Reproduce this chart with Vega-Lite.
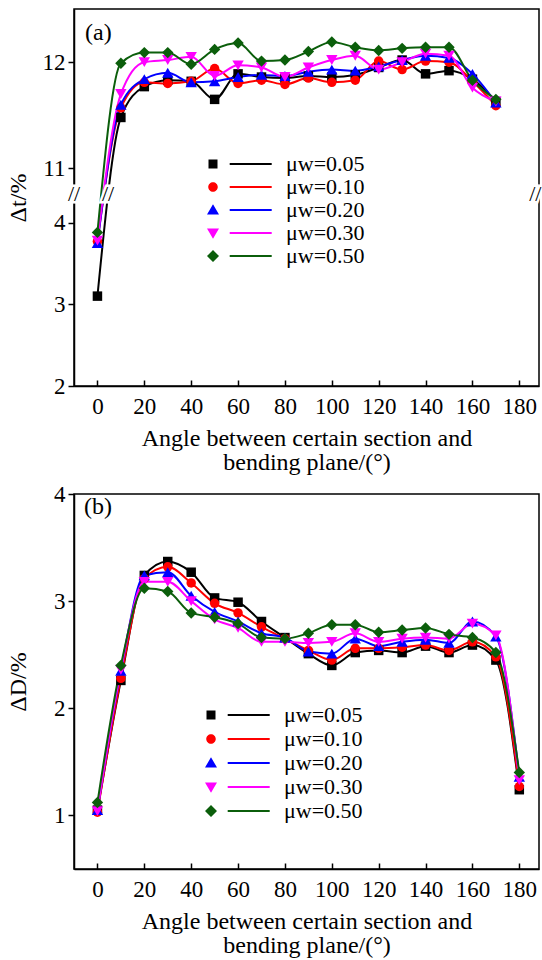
{
  "$schema": "https://vega.github.io/schema/vega-lite/v6.json",
  "background": "white",
  "padding": {"left": 5, "top": 8, "right": 3, "bottom": 0},
  "spacing": 7,
  "config": {
    "font": "'Liberation Serif', 'Times New Roman', serif",
    "view": {"stroke": "black", "strokeWidth": 1.5},
    "axis": {"domainColor": "black", "domainWidth": 1.5, "tickColor": "black", "tickWidth": 1.5, "labelColor": "black", "titleColor": "black", "labelFontSize": 23, "titleFontSize": 24, "titleFontWeight": "normal", "grid": false, "labelFont": "'Liberation Serif', 'Times New Roman', serif", "titleFont": "'Liberation Serif', 'Times New Roman', serif"},
    "legend": {"labelFont": "'Liberation Serif', 'Times New Roman', serif", "labelFontSize": 22, "labelColor": "black", "padding": 0},
    "title": {"font": "'Liberation Serif', 'Times New Roman', serif"},
    "text": {"font": "'Liberation Serif', 'Times New Roman', serif"}
  },
  "resolve": {"scale": {"fill": "independent", "shape": "independent", "stroke": "independent"}, "legend": {"fill": "independent", "shape": "independent", "stroke": "independent"}},
  "vconcat": [
    {
      "width": 465,
      "height": 377,
      "title": {"text": "(a)", "anchor": "start", "frame": "group", "offset": -36, "dx": 11, "fontSize": 24, "fontWeight": "normal", "color": "black"},
      "data": {"values": [
        {"mu": "0.05", "angle": 0, "v": 3.1}, {"mu": "0.05", "angle": 10, "v": 11.48}, {"mu": "0.05", "angle": 20, "v": 11.77}, {"mu": "0.05", "angle": 30, "v": 11.83}, {"mu": "0.05", "angle": 40, "v": 11.82}, {"mu": "0.05", "angle": 50, "v": 11.65}, {"mu": "0.05", "angle": 60, "v": 11.89}, {"mu": "0.05", "angle": 70, "v": 11.86}, {"mu": "0.05", "angle": 80, "v": 11.85}, {"mu": "0.05", "angle": 90, "v": 11.87}, {"mu": "0.05", "angle": 100, "v": 11.86}, {"mu": "0.05", "angle": 110, "v": 11.88}, {"mu": "0.05", "angle": 120, "v": 11.95}, {"mu": "0.05", "angle": 130, "v": 12.02}, {"mu": "0.05", "angle": 140, "v": 11.89}, {"mu": "0.05", "angle": 150, "v": 11.92}, {"mu": "0.05", "angle": 160, "v": 11.84}, {"mu": "0.05", "angle": 170, "v": 11.63},
        {"mu": "0.10", "angle": 0, "v": 3.77}, {"mu": "0.10", "angle": 10, "v": 11.57}, {"mu": "0.10", "angle": 20, "v": 11.81}, {"mu": "0.10", "angle": 30, "v": 11.8}, {"mu": "0.10", "angle": 40, "v": 11.82}, {"mu": "0.10", "angle": 50, "v": 11.94}, {"mu": "0.10", "angle": 60, "v": 11.8}, {"mu": "0.10", "angle": 70, "v": 11.83}, {"mu": "0.10", "angle": 80, "v": 11.79}, {"mu": "0.10", "angle": 90, "v": 11.85}, {"mu": "0.10", "angle": 100, "v": 11.81}, {"mu": "0.10", "angle": 110, "v": 11.83}, {"mu": "0.10", "angle": 120, "v": 12.01}, {"mu": "0.10", "angle": 130, "v": 11.93}, {"mu": "0.10", "angle": 140, "v": 12.01}, {"mu": "0.10", "angle": 150, "v": 12.0}, {"mu": "0.10", "angle": 160, "v": 11.82}, {"mu": "0.10", "angle": 170, "v": 11.59},
        {"mu": "0.20", "angle": 0, "v": 3.75}, {"mu": "0.20", "angle": 10, "v": 11.6}, {"mu": "0.20", "angle": 20, "v": 11.84}, {"mu": "0.20", "angle": 30, "v": 11.9}, {"mu": "0.20", "angle": 40, "v": 11.81}, {"mu": "0.20", "angle": 50, "v": 11.82}, {"mu": "0.20", "angle": 60, "v": 11.86}, {"mu": "0.20", "angle": 70, "v": 11.88}, {"mu": "0.20", "angle": 80, "v": 11.87}, {"mu": "0.20", "angle": 90, "v": 11.91}, {"mu": "0.20", "angle": 100, "v": 11.93}, {"mu": "0.20", "angle": 110, "v": 11.92}, {"mu": "0.20", "angle": 120, "v": 11.96}, {"mu": "0.20", "angle": 130, "v": 12.02}, {"mu": "0.20", "angle": 140, "v": 12.06}, {"mu": "0.20", "angle": 150, "v": 12.04}, {"mu": "0.20", "angle": 160, "v": 11.89}, {"mu": "0.20", "angle": 170, "v": 11.62},
        {"mu": "0.30", "angle": 0, "v": 3.78}, {"mu": "0.30", "angle": 10, "v": 11.7}, {"mu": "0.30", "angle": 20, "v": 12.0}, {"mu": "0.30", "angle": 30, "v": 12.02}, {"mu": "0.30", "angle": 40, "v": 12.05}, {"mu": "0.30", "angle": 50, "v": 11.87}, {"mu": "0.30", "angle": 60, "v": 11.97}, {"mu": "0.30", "angle": 70, "v": 11.95}, {"mu": "0.30", "angle": 80, "v": 11.86}, {"mu": "0.30", "angle": 90, "v": 11.95}, {"mu": "0.30", "angle": 100, "v": 12.02}, {"mu": "0.30", "angle": 110, "v": 12.06}, {"mu": "0.30", "angle": 120, "v": 11.93}, {"mu": "0.30", "angle": 130, "v": 12.0}, {"mu": "0.30", "angle": 140, "v": 12.08}, {"mu": "0.30", "angle": 150, "v": 12.06}, {"mu": "0.30", "angle": 160, "v": 11.76}, {"mu": "0.30", "angle": 170, "v": 11.63},
        {"mu": "0.50", "angle": 0, "v": 3.88}, {"mu": "0.50", "angle": 10, "v": 11.99}, {"mu": "0.50", "angle": 20, "v": 12.09}, {"mu": "0.50", "angle": 30, "v": 12.09}, {"mu": "0.50", "angle": 40, "v": 11.98}, {"mu": "0.50", "angle": 50, "v": 12.12}, {"mu": "0.50", "angle": 60, "v": 12.18}, {"mu": "0.50", "angle": 70, "v": 12.01}, {"mu": "0.50", "angle": 80, "v": 12.02}, {"mu": "0.50", "angle": 90, "v": 12.1}, {"mu": "0.50", "angle": 100, "v": 12.19}, {"mu": "0.50", "angle": 110, "v": 12.14}, {"mu": "0.50", "angle": 120, "v": 12.11}, {"mu": "0.50", "angle": 130, "v": 12.13}, {"mu": "0.50", "angle": 140, "v": 12.14}, {"mu": "0.50", "angle": 150, "v": 12.14}, {"mu": "0.50", "angle": 160, "v": 11.83}, {"mu": "0.50", "angle": 170, "v": 11.65}
      ]},
      "encoding": {
        "x": {"field": "angle", "type": "quantitative", "scale": {"domain": [-10, 188.4], "nice": false, "zero": false},
              "axis": {"values": [0, 20, 40, 60, 80, 100, 120, 140, 160, 180], "tickSize": -6, "labelPadding": 15, "title": ["Angle between certain section and", "bending plane/(°)"], "titleLineHeight": 24, "titlePadding": 8}},
        "y": {"field": "v", "type": "quantitative", "scale": {"domain": [2, 4.35, 10.76, 12.5], "range": [377, 185, 185, 0], "nice": false, "zero": false},
              "axis": {"values": [2, 3, 4, 11, 12], "format": "d", "tickSize": 6, "labelPadding": 3, "title": "Δt/%", "titleX": -44}}
      },
      "layer": [
        {"mark": {"type": "line", "interpolate": "monotone", "strokeWidth": 2},
         "encoding": {"stroke": {"field": "mu", "type": "nominal", "legend": null, "scale": {"range": ["#000000", "#ff0000", "#0000ff", "#ff00ff", "#0b5e0b"]}}}},
        {"mark": {"type": "point", "filled": true, "size": 100, "opacity": 0},
         "encoding": {
           "fill": {"field": "mu", "type": "nominal", "scale": {"range": ["#000000", "#ff0000", "#0000ff", "#ff00ff", "#0b5e0b"]},
                    "legend": {"orient": "none", "legendX": 128, "legendY": 144, "title": null, "labelExpr": "'μw=' + datum.label", "symbolSize": 100, "symbolOpacity": 1, "symbolStrokeWidth": 0, "labelOffset": 62, "rowPadding": 1}},
           "shape": {"field": "mu", "type": "nominal",
                     "scale": {"range": ["M-0.9,-0.9h1.8v1.8h-1.8z M3.34,-0.2h8.4v0.4h-8.4z", "M-0.95,0a0.95,0.95 0 1,0 1.9,0a0.95,0.95 0 1,0 -1.9,0z M3.34,-0.2h8.4v0.4h-8.4z", "M0,-1.15L1.2,0.9L-1.2,0.9z M3.34,-0.2h8.4v0.4h-8.4z", "M0,1.15L1.2,-0.9L-1.2,-0.9z M3.34,-0.2h8.4v0.4h-8.4z", "M0,-1.2L1.2,0L0,1.2L-1.2,0z M3.34,-0.2h8.4v0.4h-8.4z"]},
                     "legend": {"orient": "none", "legendX": 128, "legendY": 144, "title": null, "labelExpr": "'μw=' + datum.label", "symbolSize": 100, "symbolOpacity": 1, "symbolStrokeWidth": 0, "labelOffset": 62, "rowPadding": 1}}
         }},
        {"transform": [{"filter": {"field": "mu", "equal": "0.05"}}], "mark": {"type": "point", "shape": "square", "filled": true, "size": 90, "color": "#000000", "opacity": 1}},
        {"transform": [{"filter": {"field": "mu", "equal": "0.10"}}], "mark": {"type": "point", "shape": "circle", "filled": true, "size": 90, "color": "#ff0000", "opacity": 1}},
        {"transform": [{"filter": {"field": "mu", "equal": "0.20"}}], "mark": {"type": "point", "shape": "triangle-up", "filled": true, "size": 130, "color": "#0000ff", "opacity": 1}},
        {"transform": [{"filter": {"field": "mu", "equal": "0.30"}}], "mark": {"type": "point", "shape": "triangle-down", "filled": true, "size": 130, "color": "#ff00ff", "opacity": 1}},
        {"transform": [{"filter": {"field": "mu", "equal": "0.50"}}], "mark": {"type": "point", "shape": "diamond", "filled": true, "size": 130, "color": "#0b5e0b", "opacity": 1}},
        {"data": {"values": [{"bx": -10, "by": 7}, {"bx": 4.5, "by": 7}, {"bx": 186.8, "by": 7}]},
         "mark": {"type": "text", "text": "//", "fontSize": 22, "color": "white", "stroke": "white", "strokeWidth": 5},
         "encoding": {"x": {"field": "bx", "type": "quantitative"}, "y": {"field": "by", "type": "quantitative"}}},
        {"data": {"values": [{"bx": -10, "by": 7}, {"bx": 4.5, "by": 7}, {"bx": 186.8, "by": 7}]},
         "mark": {"type": "text", "text": "//", "fontSize": 22, "color": "black"},
         "encoding": {"x": {"field": "bx", "type": "quantitative"}, "y": {"field": "by", "type": "quantitative"}}}
      ]
    },
    {
      "width": 465,
      "height": 375,
      "title": {"text": "(b)", "anchor": "start", "frame": "group", "offset": -36, "dx": 10, "fontSize": 24, "fontWeight": "normal", "color": "black"},
      "data": {"values": [
        {"mu": "0.05", "angle": 0, "v": 1.05}, {"mu": "0.05", "angle": 10, "v": 2.26}, {"mu": "0.05", "angle": 20, "v": 3.24}, {"mu": "0.05", "angle": 30, "v": 3.37}, {"mu": "0.05", "angle": 40, "v": 3.27}, {"mu": "0.05", "angle": 50, "v": 3.03}, {"mu": "0.05", "angle": 60, "v": 2.99}, {"mu": "0.05", "angle": 70, "v": 2.81}, {"mu": "0.05", "angle": 80, "v": 2.66}, {"mu": "0.05", "angle": 90, "v": 2.51}, {"mu": "0.05", "angle": 100, "v": 2.4}, {"mu": "0.05", "angle": 110, "v": 2.52}, {"mu": "0.05", "angle": 120, "v": 2.54}, {"mu": "0.05", "angle": 130, "v": 2.52}, {"mu": "0.05", "angle": 140, "v": 2.58}, {"mu": "0.05", "angle": 150, "v": 2.52}, {"mu": "0.05", "angle": 160, "v": 2.59}, {"mu": "0.05", "angle": 170, "v": 2.45}, {"mu": "0.05", "angle": 180, "v": 1.24},
        {"mu": "0.10", "angle": 0, "v": 1.03}, {"mu": "0.10", "angle": 10, "v": 2.28}, {"mu": "0.10", "angle": 20, "v": 3.21}, {"mu": "0.10", "angle": 30, "v": 3.32}, {"mu": "0.10", "angle": 40, "v": 3.17}, {"mu": "0.10", "angle": 50, "v": 2.98}, {"mu": "0.10", "angle": 60, "v": 2.89}, {"mu": "0.10", "angle": 70, "v": 2.76}, {"mu": "0.10", "angle": 80, "v": 2.65}, {"mu": "0.10", "angle": 90, "v": 2.54}, {"mu": "0.10", "angle": 100, "v": 2.45}, {"mu": "0.10", "angle": 110, "v": 2.56}, {"mu": "0.10", "angle": 120, "v": 2.56}, {"mu": "0.10", "angle": 130, "v": 2.57}, {"mu": "0.10", "angle": 140, "v": 2.59}, {"mu": "0.10", "angle": 150, "v": 2.54}, {"mu": "0.10", "angle": 160, "v": 2.62}, {"mu": "0.10", "angle": 170, "v": 2.48}, {"mu": "0.10", "angle": 180, "v": 1.27},
        {"mu": "0.20", "angle": 0, "v": 1.05}, {"mu": "0.20", "angle": 10, "v": 2.35}, {"mu": "0.20", "angle": 20, "v": 3.24}, {"mu": "0.20", "angle": 30, "v": 3.27}, {"mu": "0.20", "angle": 40, "v": 3.05}, {"mu": "0.20", "angle": 50, "v": 2.9}, {"mu": "0.20", "angle": 60, "v": 2.81}, {"mu": "0.20", "angle": 70, "v": 2.7}, {"mu": "0.20", "angle": 80, "v": 2.66}, {"mu": "0.20", "angle": 90, "v": 2.53}, {"mu": "0.20", "angle": 100, "v": 2.51}, {"mu": "0.20", "angle": 110, "v": 2.65}, {"mu": "0.20", "angle": 120, "v": 2.58}, {"mu": "0.20", "angle": 130, "v": 2.62}, {"mu": "0.20", "angle": 140, "v": 2.64}, {"mu": "0.20", "angle": 150, "v": 2.61}, {"mu": "0.20", "angle": 160, "v": 2.81}, {"mu": "0.20", "angle": 170, "v": 2.67}, {"mu": "0.20", "angle": 180, "v": 1.36},
        {"mu": "0.30", "angle": 0, "v": 1.04}, {"mu": "0.30", "angle": 10, "v": 2.36}, {"mu": "0.30", "angle": 20, "v": 3.18}, {"mu": "0.30", "angle": 30, "v": 3.18}, {"mu": "0.30", "angle": 40, "v": 3.0}, {"mu": "0.30", "angle": 50, "v": 2.83}, {"mu": "0.30", "angle": 60, "v": 2.75}, {"mu": "0.30", "angle": 70, "v": 2.62}, {"mu": "0.30", "angle": 80, "v": 2.62}, {"mu": "0.30", "angle": 90, "v": 2.61}, {"mu": "0.30", "angle": 100, "v": 2.62}, {"mu": "0.30", "angle": 110, "v": 2.7}, {"mu": "0.30", "angle": 120, "v": 2.62}, {"mu": "0.30", "angle": 130, "v": 2.65}, {"mu": "0.30", "angle": 140, "v": 2.66}, {"mu": "0.30", "angle": 150, "v": 2.65}, {"mu": "0.30", "angle": 160, "v": 2.79}, {"mu": "0.30", "angle": 170, "v": 2.68}, {"mu": "0.30", "angle": 180, "v": 1.33},
        {"mu": "0.50", "angle": 0, "v": 1.12}, {"mu": "0.50", "angle": 10, "v": 2.4}, {"mu": "0.50", "angle": 20, "v": 3.12}, {"mu": "0.50", "angle": 30, "v": 3.09}, {"mu": "0.50", "angle": 40, "v": 2.89}, {"mu": "0.50", "angle": 50, "v": 2.85}, {"mu": "0.50", "angle": 60, "v": 2.79}, {"mu": "0.50", "angle": 70, "v": 2.66}, {"mu": "0.50", "angle": 80, "v": 2.65}, {"mu": "0.50", "angle": 90, "v": 2.7}, {"mu": "0.50", "angle": 100, "v": 2.78}, {"mu": "0.50", "angle": 110, "v": 2.78}, {"mu": "0.50", "angle": 120, "v": 2.71}, {"mu": "0.50", "angle": 130, "v": 2.73}, {"mu": "0.50", "angle": 140, "v": 2.75}, {"mu": "0.50", "angle": 150, "v": 2.69}, {"mu": "0.50", "angle": 160, "v": 2.66}, {"mu": "0.50", "angle": 170, "v": 2.52}, {"mu": "0.50", "angle": 180, "v": 1.4}
      ]},
      "encoding": {
        "x": {"field": "angle", "type": "quantitative", "scale": {"domain": [-10, 188.4], "nice": false, "zero": false},
              "axis": {"values": [0, 20, 40, 60, 80, 100, 120, 140, 160, 180], "tickSize": -6, "labelPadding": 15, "title": ["Angle between certain section and", "bending plane/(°)"], "titleLineHeight": 24, "titlePadding": 8}},
        "y": {"field": "v", "type": "quantitative", "scale": {"domain": [0.5, 4], "nice": false, "zero": false},
              "axis": {"values": [1, 2, 3, 4], "format": "d", "tickSize": 6, "labelPadding": 3, "title": "ΔD/%", "titleX": -44}}
      },
      "layer": [
        {"mark": {"type": "line", "interpolate": "monotone", "strokeWidth": 2},
         "encoding": {"stroke": {"field": "mu", "type": "nominal", "legend": null, "scale": {"range": ["#000000", "#ff0000", "#0000ff", "#ff00ff", "#0b5e0b"]}}}},
        {"mark": {"type": "point", "filled": true, "size": 100, "opacity": 0},
         "encoding": {
           "fill": {"field": "mu", "type": "nominal", "scale": {"range": ["#000000", "#ff0000", "#0000ff", "#ff00ff", "#0b5e0b"]},
                    "legend": {"orient": "none", "legendX": 126, "legendY": 210, "title": null, "labelExpr": "'μw=' + datum.label", "symbolSize": 100, "symbolOpacity": 1, "symbolStrokeWidth": 0, "labelOffset": 62, "rowPadding": 2}},
           "shape": {"field": "mu", "type": "nominal",
                     "scale": {"range": ["M-0.9,-0.9h1.8v1.8h-1.8z M3.34,-0.2h8.4v0.4h-8.4z", "M-0.95,0a0.95,0.95 0 1,0 1.9,0a0.95,0.95 0 1,0 -1.9,0z M3.34,-0.2h8.4v0.4h-8.4z", "M0,-1.15L1.2,0.9L-1.2,0.9z M3.34,-0.2h8.4v0.4h-8.4z", "M0,1.15L1.2,-0.9L-1.2,-0.9z M3.34,-0.2h8.4v0.4h-8.4z", "M0,-1.2L1.2,0L0,1.2L-1.2,0z M3.34,-0.2h8.4v0.4h-8.4z"]},
                     "legend": {"orient": "none", "legendX": 126, "legendY": 210, "title": null, "labelExpr": "'μw=' + datum.label", "symbolSize": 100, "symbolOpacity": 1, "symbolStrokeWidth": 0, "labelOffset": 62, "rowPadding": 2}}
         }},
        {"transform": [{"filter": {"field": "mu", "equal": "0.05"}}], "mark": {"type": "point", "shape": "square", "filled": true, "size": 90, "color": "#000000", "opacity": 1}},
        {"transform": [{"filter": {"field": "mu", "equal": "0.10"}}], "mark": {"type": "point", "shape": "circle", "filled": true, "size": 90, "color": "#ff0000", "opacity": 1}},
        {"transform": [{"filter": {"field": "mu", "equal": "0.20"}}], "mark": {"type": "point", "shape": "triangle-up", "filled": true, "size": 130, "color": "#0000ff", "opacity": 1}},
        {"transform": [{"filter": {"field": "mu", "equal": "0.30"}}], "mark": {"type": "point", "shape": "triangle-down", "filled": true, "size": 130, "color": "#ff00ff", "opacity": 1}},
        {"transform": [{"filter": {"field": "mu", "equal": "0.50"}}], "mark": {"type": "point", "shape": "diamond", "filled": true, "size": 130, "color": "#0b5e0b", "opacity": 1}}
      ]
    }
  ]
}
